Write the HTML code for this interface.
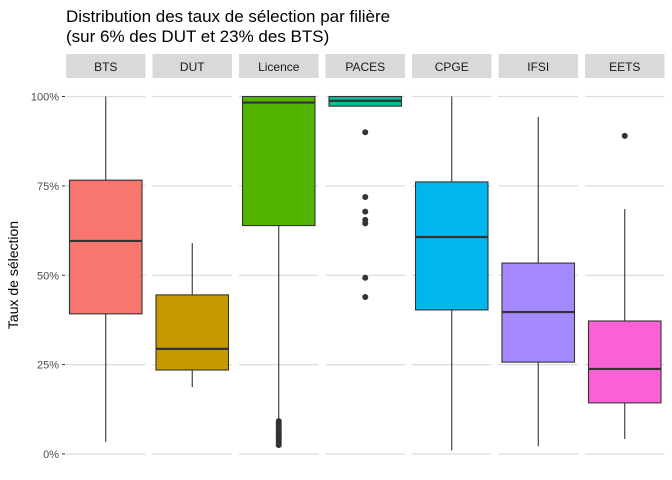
<!DOCTYPE html>
<html><head><meta charset="utf-8"><style>body{margin:0;background:#fff}svg{display:block;font-family:"Liberation Sans",sans-serif}</style></head>
<body>
<svg id="chart" width="672" height="480" viewBox="0 0 672 480">
<text x="66" y="22" font-size="17" fill="#000">Distribution des taux de sélection par filière</text>
<text x="66" y="42" font-size="17" fill="#000">(sur 6% des DUT et 23% des BTS)</text>
<text transform="translate(18,275) rotate(-90)" text-anchor="middle" font-size="14" fill="#000">Taux de sélection</text>
<g id="axis"></g><g id="panels"></g>
</svg>
<script>
const categories=["BTS","DUT","Licence","PACES","CPGE","IFSI","EETS"];
const colors=["#F8766D","#C49A00","#53B400","#00C094","#00B6EB","#A58AFF","#FB61D7"];
const whiskerLow=[3.4,18.7,9.5,97.3,1,2.2,4.2];
const q1=[39.2,23.5,63.9,97.3,40.3,25.7,14.3];
const medians=[59.6,29.4,98.3,98.8,60.7,39.7,23.8];
const q3=[76.6,44.5,100,100,76.1,53.4,37.2];
const whiskerHigh=[100,59,100,100,100,94.3,68.5];
const outliers=[[],[],[9.2,8.6,8,7.5,7,6.5,6,5.5,5,4.5,4,3.5,3,2.5],[90,71.9,67.8,65.5,64.5,49.3,43.9],[],[],[89]];
const yTicks=[0,25,50,75,100];
const yTickLabels=["0%","25%","50%","75%","100%"];
const NS="http://www.w3.org/2000/svg";
const y=v=>454-v*3.575;
const px=i=>66+i*86.5, pw=79.5;
function mk(tag,attrs,parent){const e=document.createElementNS(NS,tag);for(const k in attrs)e.setAttribute(k,attrs[k]);parent.appendChild(e);return e;}
const ax=document.getElementById('axis'), pn=document.getElementById('panels');
yTicks.forEach((t,j)=>{
  const tx=mk('text',{x:59,y:y(t)+4,'text-anchor':'end','font-size':11,fill:'#4d4d4d'},ax);
  
  
  tx.textContent=yTickLabels[j];
  const tk=mk('line',{x1:62,x2:65,y1:y(t),y2:y(t),stroke:'#333','stroke-width':1},ax);
  
  
});
categories.forEach((c,i)=>{
  const g=mk('g',{},pn);
  
  
  const x0=px(i), cx=x0+pw/2;
  const st=mk('rect',{x:x0,y:54,width:pw,height:24,fill:'#d9d9d9'},g);
  
  
  const sl=mk('text',{x:cx,y:71,'text-anchor':'middle','font-size':12,fill:'#1a1a1a'},g);
  
  
  sl.textContent=c;
  yTicks.forEach(t=>{const gl=mk('line',{x1:x0,x2:x0+pw,y1:y(t),y2:y(t),stroke:'#dcdcdc','stroke-width':1.2},g);
    
    });
  const w=mk('line',{x1:cx,x2:cx,y1:y(whiskerHigh[i]),y2:y(whiskerLow[i]),stroke:'#333','stroke-width':1.1},g);
  
  
  const b=mk('rect',{x:x0+3.5,y:y(q3[i]),width:pw-7,height:y(q1[i])-y(q3[i]),fill:colors[i],stroke:'#333','stroke-width':1.1},g);
  
  
  const m=mk('line',{x1:x0+3.5,x2:x0+pw-3.5,y1:y(medians[i]),y2:y(medians[i]),stroke:'#333','stroke-width':2.2},g);
  
  
  outliers[i].forEach(v=>{const o=mk('circle',{cx:cx,cy:y(v),r:3,fill:'#333'},g);
    
    });
});
</script>
</body></html>
